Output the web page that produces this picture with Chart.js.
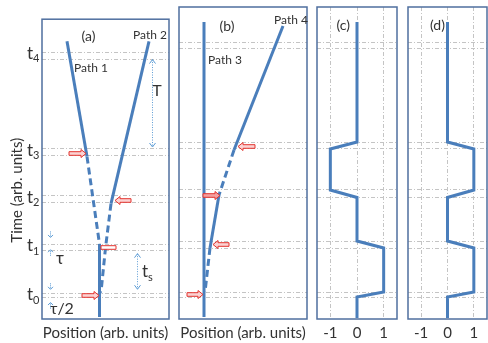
<!DOCTYPE html>
<html>
<head>
<meta charset="utf-8">
<script src="https://cdn.jsdelivr.net/npm/chart.js@4"></script>
<style>
  body { margin: 0; background: #fff; width: 488px; height: 343px; position: relative; overflow: hidden; }
  canvas { position: absolute; top: 0; }
</style>
</head>
<body>
<canvas id="pa" width="172" height="343" style="left:0"></canvas>
<canvas id="pb" width="138" height="343" style="left:172px"></canvas>
<canvas id="pc" width="90" height="343" style="left:310px"></canvas>
<canvas id="pd" width="88" height="343" style="left:400px"></canvas>
<script>
// time axis (arb. units): the dashed guide pairs and where the t labels sit
const timeMarks = [27.7, 27.0, 17.7, 17.0, 12.9, 12.15, 7.8, 7.1, 2.7, 2.2];
const timeSubs = ['4', '3', '2', '1', '0'];
const timeLabelAt = [27.6, 17.5, 12.6, 7.6, 2.5];

// panel (a) paths, position vs time
const path1X = [2.5, 4.5, 5.75, 5.75];
const path1Y = [28.9, 16.9, 7.8, 0.2];
const path2X = [10.7, 6.9, 6.35, 5.95, 5.8];
const path2Y = [28.9, 12.0, 7.4, 3.3, 2.7];

// panel (b) paths
const path3X = [2.5, 2.5];
const path3Y = [29.7, 0.2];
const path4X = [10.4, 5.5, 4.0, 3.1, 2.6];
const path4Y = [29.3, 16.9, 12.4, 7.1, 2.7];

// panels (c) and (d): switching functions
const stepTime = [29.7, 17.7, 17.0, 12.9, 12.15, 7.8, 7.1, 2.7, 2.2, 0.1];
const stepC = [0, 0, -1, -1, 0, 0, 1, 1, 0, 0];
const stepD = [0, 0, 1, 1, 0, 0, 1, 1, 0, 0];
const stepTicks = [-1, 0, 1];

const BLUE = '#4a7ebb';
const FRAME = '#4f6f9f';
const GRID = '#c4c4c4';
const INK = '#333333';
const NOTE_BLUE = '#5b9bd5';
const FONT = 'Lato, "Open Sans", "DejaVu Sans", sans-serif';

Chart.defaults.font.family = FONT;
Chart.defaults.color = INK;

function pts(xs, ys, from, to) {
  const out = [];
  for (let i = from; i <= to; i++) out.push({ x: xs[i], y: ys[i] });
  return out;
}

function seg(data, dashed) {
  return {
    data: data, yAxisID: 'y', showLine: true, borderColor: BLUE, borderWidth: 3,
    pointRadius: 0, borderDash: dashed ? [7, 4] : [], borderCapStyle: 'butt'
  };
}

// annotations are given in data units and placed through the scales
function drawNote(ctx, n, sx, sy) {
  const px = v => sx.getPixelForValue(v);
  const py = v => sy.getPixelForValue(v);
  if (n.text) {
    ctx.fillStyle = INK;
    ctx.font = n.size + 'px ' + FONT;
    ctx.textAlign = 'center';
    ctx.textBaseline = 'middle';
    if (n.rotate) {
      ctx.save();
      ctx.translate(px(n.x), py(n.y));
      ctx.rotate(-Math.PI / 2);
      ctx.fillText(n.text, 0, 0);
      ctx.restore();
    } else {
      ctx.fillText(n.text, px(n.x), py(n.y));
    }
    if (n.sub) {
      const w = ctx.measureText(n.text).width;
      ctx.font = Math.round(n.size * 0.65) + 'px ' + FONT;
      ctx.textAlign = 'left';
      ctx.fillText(n.sub, px(n.x) + w / 2, py(n.y) + n.size * 0.3);
    }
  } else if (n.arrow) {
    const x0 = px(n.x0), x1 = px(n.x1), y = Math.round(py(n.y)) + 0.5;
    const dir = Math.sign(x1 - x0);
    const head = n.rect ? 0 : 5, sh = 1.8, hh = 4;
    const bx = x1 - dir * head;
    ctx.beginPath();
    ctx.moveTo(x0, y - sh);
    ctx.lineTo(bx, y - sh);
    if (head) { ctx.lineTo(bx, y - hh); ctx.lineTo(x1, y); ctx.lineTo(bx, y + hh); }
    ctx.lineTo(bx, y + sh);
    ctx.lineTo(x0, y + sh);
    ctx.closePath();
    ctx.fillStyle = n.fill || '#fbd3d3';
    ctx.fill();
    ctx.strokeStyle = '#e3342f';
    ctx.lineWidth = 1;
    ctx.stroke();
  } else if (n.span) {
    const x = Math.round(px(n.x)) + 0.5, y0 = py(n.y0), y1 = py(n.y1);
    ctx.strokeStyle = NOTE_BLUE;
    ctx.lineWidth = 1;
    ctx.setLineDash([1, 1.5]);
    ctx.beginPath(); ctx.moveTo(x, y0); ctx.lineTo(x, y1); ctx.stroke();
    ctx.setLineDash([]);
    ctx.beginPath();
    ctx.moveTo(x - 3, y0 + 4); ctx.lineTo(x, y0); ctx.lineTo(x + 3, y0 + 4);
    ctx.moveTo(x - 3, y1 - 4); ctx.lineTo(x, y1); ctx.lineTo(x + 3, y1 - 4);
    ctx.stroke();
  } else if (n.tick) {
    const x = Math.round(px(n.x)) + 0.5, y = py(n.y), d = n.tick === 'down' ? 1 : -1;
    ctx.strokeStyle = NOTE_BLUE;
    ctx.lineWidth = 1;
    ctx.setLineDash([1, 1]);
    ctx.beginPath(); ctx.moveTo(x, y - 3 * d); ctx.lineTo(x, y + 3 * d); ctx.stroke();
    ctx.setLineDash([]);
    ctx.beginPath();
    ctx.moveTo(x - 2.5, y + 0.5 * d); ctx.lineTo(x, y + 3 * d); ctx.lineTo(x + 2.5, y + 0.5 * d);
    ctx.stroke();
  }
}

function annotations(notes) {
  return {
    id: 'notes',
    afterDraw(chart) {
      const { ctx, chartArea: a, scales } = chart;
      ctx.save();
      ctx.strokeStyle = FRAME;
      ctx.lineWidth = 1.5;
      ctx.strokeRect(a.left, a.top, a.right - a.left, a.bottom - a.top);
      notes.forEach(n => drawNote(ctx, n, scales.x, scales.y));
      // subscripts of the t tick labels
      const yl = scales.yl;
      if (yl) {
        ctx.fillStyle = INK;
        ctx.font = '11px ' + FONT;
        ctx.textAlign = 'left';
        ctx.textBaseline = 'middle';
        yl.ticks.forEach((t, i) => {
          ctx.fillText(timeSubs[i], yl.right - 9, yl.getPixelForValue(t.value) + 5);
        });
      }
      ctx.restore();
    }
  };
}

function gridY() {
  return {
    type: 'linear', position: 'left', weight: 0, min: 0, max: 31.2,
    afterBuildTicks: s => { s.ticks = timeMarks.map(v => ({ value: v })); },
    ticks: { display: false },
    grid: { color: GRID, drawTicks: false, lineWidth: 1 },
    border: { display: false, dash: [4, 2, 1, 2] },
    afterFit: s => { s.width = 0; }
  };
}

function positionX(max) {
  return {
    type: 'linear', min: 0, max: max,
    grid: { display: false, drawTicks: false }, border: { display: false },
    ticks: { display: false },
    title: { display: true, text: 'Position (arb. units)', font: { size: 15 }, padding: { top: 0, bottom: 1 } },
    afterFit: s => { s.height = 24; }
  };
}

function switchX() {
  return {
    type: 'linear', min: -1.5, max: 1.5,
    afterBuildTicks: s => { s.ticks = stepTicks.map(v => ({ value: v })); },
    grid: { color: GRID, drawTicks: false },
    border: { display: false, dash: [4, 2, 1, 2] },
    ticks: { font: { size: 15 }, padding: 5, callback: v => String(v) },
    afterFit: s => { s.height = 24; }
  };
}

function panel(id, datasets, scales, padding, notes) {
  return new Chart(document.getElementById(id), {
    type: 'scatter',
    data: { datasets: datasets },
    options: {
      responsive: false, animation: false, events: [],
      layout: { padding: padding },
      plugins: { legend: { display: false }, tooltip: { enabled: false } },
      scales: scales
    },
    plugins: [annotations(notes)]
  });
}

// (a)
panel('pa', [
  seg(pts(path1X, path1Y, 0, 1), false),
  seg(pts(path1X, path1Y, 1, 2), true),
  seg(pts(path1X, path1Y, 2, 3), false),
  seg(pts(path2X, path2Y, 0, 1), false),
  seg(pts(path2X, path2Y, 1, 4), true)
], {
  x: positionX(12.7),
  y: gridY(),
  yl: {
    type: 'linear', position: 'left', weight: 1, min: 0, max: 31.2,
    afterBuildTicks: s => { s.ticks = timeLabelAt.map(v => ({ value: v })); },
    grid: { display: false, drawTicks: false }, border: { display: false },
    ticks: { autoSkip: false, padding: 9, font: { size: 17 }, callback: () => 't' },
    afterFit: s => { s.width = 42; }
  }
}, { top: 7, left: 0, right: 3, bottom: 0 }, [
  { text: 'Time (arb. units)', x: -2.5, y: 13.4, size: 15, rotate: true },
  { text: '(a)', x: 4.65, y: 29.4, size: 14 },
  { text: 'Path 1', x: 4.9, y: 26.1, size: 12 },
  { text: 'Path 2', x: 10.8, y: 29.5, size: 12 },
  { text: 'T', x: 11.5, y: 23.7, size: 16 },
  { span: true, x: 11.0, y0: 27.0, y1: 17.9 },
  { span: true, x: 9.5, y0: 6.8, y1: 3.1 },
  { text: 't', sub: 's', x: 10.3, y: 4.9, size: 17 },
  { text: 'τ', x: 1.8, y: 6.3, size: 17 },
  { text: 'τ/2', x: 2.0, y: 1.1, size: 16 },
  { tick: 'down', x: 0.8, y: 8.8 },
  { tick: 'up', x: 0.8, y: 6.9 },
  { tick: 'down', x: 0.8, y: 3.4 },
  { tick: 'up', x: 0.8, y: 1.4 },
  { arrow: true, x0: 2.7, x1: 4.4, y: 17.3 },
  { arrow: true, x0: 8.9, x1: 7.3, y: 12.4 },
  { arrow: true, rect: true, x0: 5.9, x1: 7.4, y: 7.45, fill: '#ffffff' },
  { arrow: true, x0: 4.0, x1: 5.7, y: 2.5 }
]);

// (b)
panel('pb', [
  seg(pts(path3X, path3Y, 0, 1), false),
  seg(pts(path4X, path4Y, 0, 1), false),
  seg(pts(path4X, path4Y, 1, 2), true),
  seg(pts(path4X, path4Y, 2, 3), false),
  seg(pts(path4X, path4Y, 3, 4), true)
], {
  x: positionX(12.8),
  y: gridY()
}, { top: 7, left: 7, right: 3, bottom: 0 }, [
  { text: '(b)', x: 4.8, y: 29.3, size: 14 },
  { text: 'Path 3', x: 4.6, y: 25.9, size: 12 },
  { text: 'Path 4', x: 11.2, y: 29.9, size: 12 },
  { arrow: true, x0: 7.6, x1: 5.9, y: 17.3 },
  { arrow: true, x0: 2.4, x1: 4.1, y: 12.4, fill: '#f4a0a0' },
  { arrow: true, x0: 5.0, x1: 3.4, y: 7.5 },
  { arrow: true, x0: 0.8, x1: 2.4, y: 2.5 }
]);

// (c)
panel('pc', [seg(pts(stepC, stepTime, 0, stepTime.length - 1), false)], {
  x: switchX(),
  y: gridY()
}, { top: 7, left: 7, right: 3, bottom: 0 }, [
  { text: '(c)', x: -0.52, y: 29.4, size: 14 }
]);

// (d)
panel('pd', [seg(pts(stepD, stepTime, 0, stepTime.length - 1), false)], {
  x: switchX(),
  y: gridY()
}, { top: 7, left: 8, right: 1, bottom: 0 }, [
  { text: '(d)', x: -0.38, y: 29.4, size: 14 }
]);
</script>
</body>
</html>
